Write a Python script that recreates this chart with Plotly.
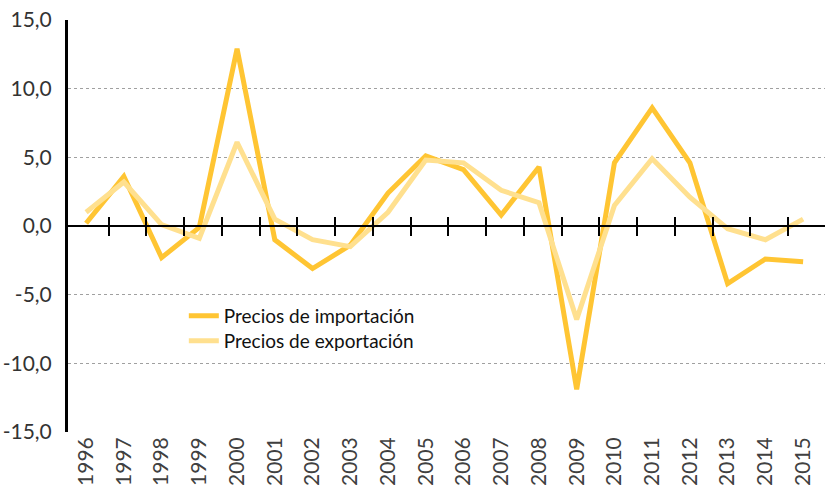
import plotly.graph_objects as go

years = list(range(1996, 2016))
year_labels = [str(y) for y in years]
importacion = [0.2, 3.6, -2.3, -0.1, 12.9, -1.0, -3.1, -1.4, 2.4, 5.1, 4.1, 0.8, 4.3, -11.9, 4.6, 8.6, 4.6, -4.2, -2.4, -2.6]
exportacion = [1.0, 3.2, 0.1, -0.9, 6.1, 0.5, -1.0, -1.5, 1.0, 4.8, 4.6, 2.6, 1.7, -6.8, 1.5, 4.9, 2.1, -0.2, -1.0, 0.5]
y_ticks = [-15, -10, -5, 0, 5, 10, 15]
y_tick_labels = [f"{v:.1f}".replace(".", ",") for v in y_ticks]

FONT = "Lato"
C_IMP = "#FFC533"
C_EXP = "#FFE08F"

fig = go.Figure()
fig.add_trace(go.Scatter(x=years, y=importacion, mode="lines", name="Precios de importación",
                         line=dict(color=C_IMP, width=5), legend="legend"))
fig.add_trace(go.Scatter(x=years, y=exportacion, mode="lines", name="Precios de exportación",
                         line=dict(color=C_EXP, width=5), legend="legend2"))

xr = [years[0] - 0.48, years[-1] + 0.58]
bounds = [y + 0.6 for y in years[:-1]]

leg_common = dict(x=0.153, xanchor="left", yanchor="middle", bgcolor="rgba(0,0,0,0)",
                  font=dict(size=19, color="#111111", family=FONT), itemwidth=30)

fig.update_layout(
    width=825, height=493,
    margin=dict(l=68, r=0, t=20, b=61),
    plot_bgcolor="white", paper_bgcolor="white",
    font=dict(family=FONT, color="#333333"),
    xaxis=dict(range=xr, tickvals=years, ticktext=year_labels, tickangle=-90,
               showgrid=False, zeroline=False, showline=False, ticks="", automargin=False,
               tickfont=dict(size=21, color="#404040", family=FONT)),
    xaxis2=dict(range=xr, overlaying="x", anchor="free", position=0.5, side="bottom",
                tickvals=bounds, showticklabels=False, ticks="outside", ticklen=9,
                tickwidth=2, tickcolor="black", showline=True, linecolor="black",
                linewidth=2, showgrid=False, zeroline=False, automargin=False),
    xaxis3=dict(range=xr, overlaying="x", anchor="free", position=0.5, side="top",
                tickvals=bounds, showticklabels=False, ticks="outside", ticklen=9,
                tickwidth=2, tickcolor="black", showline=False, showgrid=False,
                zeroline=False, automargin=False),
    yaxis=dict(range=[-15, 15], tickvals=y_ticks, ticktext=y_tick_labels,
               showgrid=True, gridcolor="#A0A0A0", griddash="dot", gridwidth=1,
               zeroline=False, showline=True, linecolor="black", linewidth=3,
               ticks="", ticklabelstandoff=9, automargin=False,
               tickfont=dict(size=21, color="#333333", family=FONT)),
    legend=dict(y=0.2816, **leg_common),
    legend2=dict(y=0.2209, **leg_common),
    showlegend=True,
)
# invisible traces to activate the overlay axes
fig.add_trace(go.Scatter(x=[years[0]], y=[0], xaxis="x2", mode="markers",
                         marker=dict(opacity=0), showlegend=False, hoverinfo="skip"))
fig.add_trace(go.Scatter(x=[years[0]], y=[0], xaxis="x3", mode="markers",
                         marker=dict(opacity=0), showlegend=False, hoverinfo="skip"))

fig.write_html("out.html", config={"displayModeBar": False},
               post_script="document.body.style.margin='0';document.body.style.overflow='hidden';")
